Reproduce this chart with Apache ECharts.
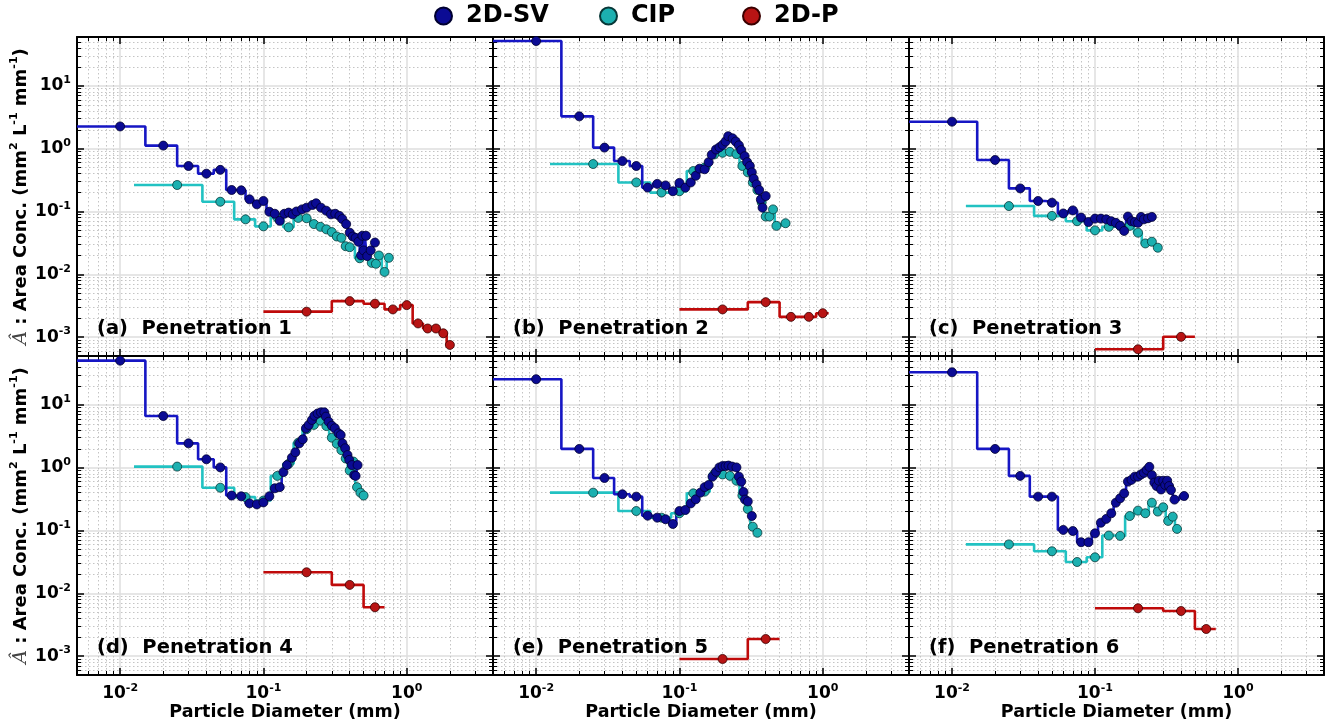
<!DOCTYPE html>
<html><head><meta charset="utf-8">
<script src="https://cdn.jsdelivr.net/npm/echarts@6/dist/echarts.min.js"></script>
<style>html,body{margin:0;padding:0;background:#fff}#c{width:1329px;height:727px}</style>
</head><body><div id="c"></div>
<script>
// ---------- data (x = particle diameter mm, y = area conc.) ----------
const svA = [[0.01,2.26],[0.02,1.12],[0.03,0.53],[0.04,0.40],[0.05,0.46],[0.06,0.22],[0.07,0.217],[0.08,0.156],[0.09,0.13],[0.10,0.147],[0.11,0.099],[0.12,0.092],[0.13,0.071],[0.14,0.092],[0.15,0.096],[0.16,0.09],[0.17,0.10],[0.186,0.108],[0.20,0.115],[0.22,0.127],[0.233,0.135],[0.252,0.115],[0.274,0.103],[0.296,0.09],[0.317,0.092],[0.339,0.085],[0.355,0.076],[0.378,0.063],[0.40,0.046],[0.42,0.040],[0.44,0.038],[0.46,0.033],[0.48,0.020],[0.49,0.041],[0.50,0.024],[0.52,0.041],[0.53,0.0195],[0.56,0.024],[0.60,0.032]];
const cipA = [[0.025,0.264],[0.05,0.143],[0.075,0.075],[0.1,0.058],[0.125,0.08],[0.15,0.056],[0.175,0.079],[0.2,0.078],[0.225,0.063],[0.25,0.057],[0.275,0.052],[0.3,0.047],[0.325,0.040],[0.35,0.038],[0.375,0.028],[0.4,0.027],[0.47,0.018],[0.52,0.021],[0.57,0.0152],[0.61,0.0147],[0.64,0.0199],[0.70,0.0109],[0.75,0.0183]];
const pA = [[0.2,0.00254],[0.4,0.00374],[0.6,0.0034],[0.8,0.00276],[1.0,0.00323],[1.2,0.00165],[1.4,0.00137],[1.6,0.00137],[1.8,0.00115],[2.0,0.00075]];

const svB = [[0.01,51.7],[0.02,3.27],[0.03,1.04],[0.04,0.635],[0.05,0.53],[0.06,0.24],[0.07,0.275],[0.08,0.26],[0.09,0.21],[0.1,0.285],[0.11,0.24],[0.12,0.29],[0.13,0.37],[0.138,0.48],[0.15,0.47],[0.16,0.61],[0.168,0.80],[0.18,0.97],[0.19,1.05],[0.2,1.15],[0.21,1.30],[0.219,1.58],[0.235,1.46],[0.247,1.30],[0.26,1.13],[0.27,0.95],[0.285,0.76],[0.297,0.61],[0.31,0.53],[0.32,0.42],[0.33,0.333],[0.345,0.27],[0.36,0.22],[0.37,0.155],[0.38,0.115],[0.40,0.176]];
const cipB = [[0.025,0.57],[0.05,0.29],[0.075,0.20],[0.1,0.21],[0.125,0.44],[0.15,0.50],[0.175,0.81],[0.2,0.86],[0.225,0.89],[0.25,0.82],[0.275,0.53],[0.3,0.42],[0.325,0.29],[0.35,0.22],[0.375,0.14],[0.4,0.083],[0.425,0.083],[0.45,0.108],[0.475,0.059],[0.55,0.065]];
const pB = [[0.2,0.00276],[0.4,0.0036],[0.6,0.0021],[0.8,0.0021],[1.0,0.0024]];

const svC = [[0.01,2.69],[0.02,0.66],[0.03,0.233],[0.04,0.147],[0.05,0.138],[0.06,0.093],[0.07,0.104],[0.08,0.080],[0.09,0.068],[0.1,0.077],[0.11,0.077],[0.12,0.075],[0.13,0.070],[0.14,0.066],[0.15,0.059],[0.16,0.049],[0.17,0.083],[0.18,0.070],[0.19,0.068],[0.2,0.066],[0.21,0.082],[0.22,0.075],[0.235,0.078],[0.25,0.082]];
const cipC = [[0.025,0.122],[0.05,0.085],[0.075,0.070],[0.1,0.050],[0.125,0.057],[0.15,0.059],[0.175,0.059],[0.2,0.046],[0.225,0.031],[0.25,0.033],[0.275,0.0265]];
const pC = [[0.2,0.00064],[0.4,0.00101]];

const svD = [[0.01,50.6],[0.02,6.65],[0.03,2.44],[0.04,1.36],[0.05,1.01],[0.06,0.36],[0.07,0.35],[0.08,0.27],[0.09,0.26],[0.1,0.28],[0.11,0.35],[0.12,0.47],[0.13,0.49],[0.138,0.85],[0.146,1.10],[0.158,1.44],[0.167,1.76],[0.178,2.44],[0.188,2.83],[0.198,4.24],[0.207,4.79],[0.218,5.75],[0.227,6.7],[0.239,7.3],[0.252,7.6],[0.266,7.6],[0.273,6.5],[0.285,5.4],[0.3,4.66],[0.315,4.24],[0.334,3.53],[0.346,3.31],[0.356,2.44],[0.372,2.04],[0.386,1.59],[0.397,1.33],[0.414,1.10],[0.43,0.76],[0.44,0.74],[0.454,1.10]];
const cipD = [[0.025,1.04],[0.05,0.48],[0.075,0.34],[0.1,0.30],[0.125,0.74],[0.15,1.15],[0.175,2.5],[0.2,4.1],[0.225,4.8],[0.25,5.6],[0.275,4.6],[0.3,3.0],[0.325,2.4],[0.35,1.9],[0.375,1.4],[0.4,0.9],[0.425,1.25],[0.45,0.49],[0.475,0.40],[0.5,0.36]];
const pD = [[0.2,0.0216],[0.4,0.0136],[0.6,0.006]];

const svE = [[0.01,25.6],[0.02,1.99],[0.03,0.685],[0.04,0.377],[0.05,0.346],[0.06,0.172],[0.07,0.16],[0.08,0.151],[0.09,0.127],[0.1,0.204],[0.11,0.212],[0.12,0.27],[0.13,0.314],[0.14,0.40],[0.15,0.49],[0.16,0.53],[0.17,0.72],[0.18,0.86],[0.19,1.01],[0.2,1.06],[0.21,1.06],[0.22,1.08],[0.233,1.04],[0.25,1.01],[0.26,0.72],[0.27,0.60],[0.28,0.41],[0.287,0.31],[0.3,0.29],[0.32,0.17]];
const cipE = [[0.025,0.40],[0.05,0.204],[0.075,0.16],[0.1,0.188],[0.125,0.39],[0.15,0.415],[0.175,0.79],[0.2,0.78],[0.225,0.74],[0.25,0.62],[0.275,0.36],[0.3,0.22],[0.325,0.115],[0.35,0.092]];
const pE = [[0.2,0.0009],[0.4,0.00187]];

const svF = [[0.01,33.0],[0.02,1.99],[0.03,0.74],[0.04,0.346],[0.05,0.346],[0.06,0.102],[0.07,0.098],[0.08,0.065],[0.09,0.065],[0.1,0.090],[0.11,0.133],[0.12,0.153],[0.13,0.188],[0.14,0.277],[0.15,0.326],[0.16,0.39],[0.17,0.60],[0.18,0.64],[0.19,0.72],[0.2,0.72],[0.21,0.78],[0.22,0.83],[0.23,0.92],[0.24,1.03],[0.25,0.76],[0.26,0.58],[0.27,0.51],[0.28,0.62],[0.29,0.45],[0.30,0.62],[0.31,0.53],[0.32,0.62],[0.33,0.51],[0.34,0.44],[0.36,0.31],[0.42,0.354]];
const cipF = [[0.025,0.060],[0.05,0.0467],[0.075,0.0315],[0.1,0.0374],[0.125,0.083],[0.15,0.082],[0.175,0.17],[0.2,0.207],[0.225,0.188],[0.25,0.277],[0.275,0.20],[0.3,0.234],[0.325,0.142],[0.35,0.166],[0.375,0.106]];
const pF = [[0.2,0.00577],[0.4,0.00522],[0.6,0.0027]];

const panelLabels = ['(a)  Penetration 1','(b)  Penetration 2','(c)  Penetration 3','(d)  Penetration 4','(e)  Penetration 5','(f)  Penetration 6'];
const seriesNames = ['2D-SV','CIP','2D-P'];
const xMajorTicks = [0.01, 0.1, 1];
const yMajorTicks = [0.001, 0.01, 0.1, 1, 10];
const xRange = [0.005, 4];
const yRange = [0.0005, 60];

// ---------- layout / style ----------
const FONT = 'DejaVu Sans';
const grids = [
  {left:77, top:37, width:416, height:319},
  {left:493, top:37, width:416, height:319},
  {left:909, top:37, width:415, height:319},
  {left:77, top:356, width:416, height:319},
  {left:493, top:356, width:416, height:319},
  {left:909, top:356, width:415, height:319}
];
const panels = [
  {sv:svA, cip:cipA, p:pA}, {sv:svB, cip:cipB, p:pB}, {sv:svC, cip:cipC, p:pC},
  {sv:svD, cip:cipD, p:pD}, {sv:svE, cip:cipE, p:pE}, {sv:svF, cip:cipF, p:pF}
];
const colors = {
  sv:{line:'#1616c4', fill:'#0b0b94', border:'#000030'},
  cip:{line:'#22c2c2', fill:'#1cb0b0', border:'#083838'},
  p:{line:'#bf0a0a', fill:'#b81414', border:'#3a0000'}
};

function minorsBetween(lo, hi) {
  const out = [];
  for (let e = -5; e <= 2; e++) {
    for (let d = 2; d <= 9; d++) {
      const v = d * Math.pow(10, e);
      if (v > lo * 1.0001 && v < hi * 0.9999) out.push(+v.toPrecision(3));
    }
  }
  return out;
}
const xMinorTicks = minorsBetween(xRange[0], xRange[1]);
const yMinorTicks = minorsBetween(yRange[0], yRange[1]);

function stepData(pts) {
  const n = pts.length, out = [];
  for (let i = 0; i < n; i++) {
    const x = pts[i][0], y = pts[i][1];
    const lo = i > 0 ? (pts[i-1][0] + x) / 2 : x - (pts[1][0] - x) / 2;
    const hi = i < n - 1 ? (x + pts[i+1][0]) / 2 : x + (x - pts[n-2][0]) / 2;
    out.push([lo, y], [hi, y]);
  }
  return out;
}

const powLabel = v => '{b|10}{s|' + Math.round(Math.log10(v)) + '}';
const labelRich = {
  b:{fontSize:17, fontWeight:'bold', fontFamily:FONT, color:'#000', lineHeight:22},
  s:{fontSize:11, fontWeight:'bold', fontFamily:FONT, color:'#000', verticalAlign:'top', lineHeight:14}
};

const xAxes = [], yAxes = [], series = [], titles = [];
grids.forEach((g, i) => {
  const bottomRow = i >= 3, leftCol = (i % 3) === 0;
  const base = {gridIndex:i, type:'log', logBase:10, min:xRange[0], max:xRange[1], silent:true, axisPointer:{show:false}};
  xAxes.push(Object.assign({}, base, {
    position:'bottom',
    axisLine:{show:true, onZero:false, lineStyle:{color:'#000', width:2}},
    axisTick:{show:true, inside:true, length:7, customValues:xMajorTicks, lineStyle:{color:'#000', width:1.5}},
    axisLabel:{show:bottomRow, customValues:xMajorTicks, formatter:powLabel, rich:labelRich, margin:8},
    splitLine:{show:true, lineStyle:{color:'#dedede', width:1.5}},
    name: bottomRow ? 'Particle Diameter (mm)' : '',
    nameLocation:'middle', nameGap:26,
    nameTextStyle:{fontSize:17.5, fontWeight:'bold', fontFamily:FONT, color:'#000'}
  }));
  xAxes.push(Object.assign({}, base, {
    position:'bottom',
    axisLine:{show:false},
    axisTick:{show:true, inside:true, length:4, customValues:xMinorTicks, lineStyle:{color:'#000', width:1}},
    axisLabel:{show:false},
    splitLine:{show:true, lineStyle:{color:'#c4c4c4', width:1, type:[1.5,2.5]}}
  }));
  xAxes.push(Object.assign({}, base, {
    position:'top',
    axisLine:{show:true, onZero:false, lineStyle:{color:'#000', width:2}},
    axisTick:{show:true, inside:true, length:7, customValues:xMajorTicks, lineStyle:{color:'#000', width:1.5}},
    axisLabel:{show:false}, splitLine:{show:false}
  }));
  xAxes.push(Object.assign({}, base, {
    position:'top',
    axisLine:{show:false},
    axisTick:{show:true, inside:true, length:4, customValues:xMinorTicks, lineStyle:{color:'#000', width:1}},
    axisLabel:{show:false}, splitLine:{show:false}
  }));

  const ybase = {gridIndex:i, type:'log', logBase:10, min:yRange[0], max:yRange[1], silent:true, axisPointer:{show:false}};
  yAxes.push(Object.assign({}, ybase, {
    position:'left',
    axisLine:{show:true, onZero:false, lineStyle:{color:'#000', width:2}},
    axisTick:{show:true, inside:true, length:7, customValues:yMajorTicks, lineStyle:{color:'#000', width:1.5}},
    axisLabel:{show:leftCol, customValues:yMajorTicks, formatter:powLabel, rich:labelRich, margin:6},
    splitLine:{show:true, lineStyle:{color:'#dedede', width:1.5}},
    name: leftCol ? '{i|Â} : Area Conc. (mm{s|2} L{s|-1} mm{s|-1})' : '',
    nameLocation:'middle', nameGap:44,
    nameTextStyle:{fontSize:18, fontWeight:'bold', fontFamily:FONT, color:'#000',
      rich:{
        i:{fontSize:19, fontStyle:'italic', fontWeight:'normal', fontFamily:'DejaVu Serif', color:'#444', lineHeight:24},
        s:{fontSize:11, fontWeight:'bold', fontFamily:FONT, color:'#000', verticalAlign:'top', lineHeight:13}
      }}
  }));
  yAxes.push(Object.assign({}, ybase, {
    position:'left',
    axisLine:{show:false},
    axisTick:{show:true, inside:true, length:4, customValues:yMinorTicks, lineStyle:{color:'#000', width:1}},
    axisLabel:{show:false},
    splitLine:{show:true, lineStyle:{color:'#c4c4c4', width:1, type:[1.5,2.5]}}
  }));
  yAxes.push(Object.assign({}, ybase, {
    position:'right',
    axisLine:{show:true, onZero:false, lineStyle:{color:'#000', width:2}},
    axisTick:{show:true, inside:true, length:7, customValues:yMajorTicks, lineStyle:{color:'#000', width:1.5}},
    axisLabel:{show:false}, splitLine:{show:false}
  }));
  yAxes.push(Object.assign({}, ybase, {
    position:'right',
    axisLine:{show:false},
    axisTick:{show:true, inside:true, length:4, customValues:yMinorTicks, lineStyle:{color:'#000', width:1}},
    axisLabel:{show:false}, splitLine:{show:false}
  }));

  const p = panels[i];
  const keys = [['cip','CIP'], ['p','2D-P'], ['sv','2D-SV']];
  keys.forEach(([k, name], j) => {
    series.push({
      type:'line', name: name + ' bins', xAxisIndex:i*4, yAxisIndex:i*4,
      data: stepData(p[k]), showSymbol:false, symbol:'none', silent:true, clip:true,
      lineStyle:{color:colors[k].line, width:2.6}, z:2 + j * 0.1, animation:false
    });
  });
  keys.forEach(([k, name], j) => {
    series.push({
      type:'scatter', name: name, xAxisIndex:i*4, yAxisIndex:i*4,
      data: p[k], symbol:'circle', symbolSize:9, silent:true,
      itemStyle:{color:colors[k].fill, borderColor:colors[k].border, borderWidth:0.8, opacity:1},
      z:3 + j * 0.1, animation:false
    });
  });

  titles.push({
    text: panelLabels[i],
    left: g.left + 20,
    top: g.top + 282,
    padding:0,
    textStyle:{fontSize:19.5, fontWeight:'bold', fontFamily:FONT, color:'#000'}
  });
});

const legendLefts = [434, 599, 742];
const legends = seriesNames.map((n, k) => ({
  data:[n], left:legendLefts[k], top:4, icon:'circle', itemWidth:17, itemHeight:17,
  selectedMode:false, padding:0,
  textStyle:{fontSize:24, fontWeight:'bold', fontFamily:FONT, color:'#000', padding:[0,0,0,9]}
}));

const chart = echarts.init(document.getElementById('c'), null, {renderer:'canvas'});
chart.setOption({
  backgroundColor:'#fff',
  animation:false,
  textStyle:{fontFamily:FONT},
  title: titles,
  legend: legends,
  grid: grids.map(g => Object.assign({containLabel:false}, g)),
  xAxis: xAxes,
  yAxis: yAxes,
  series: series
});
</script>
</body></html>
